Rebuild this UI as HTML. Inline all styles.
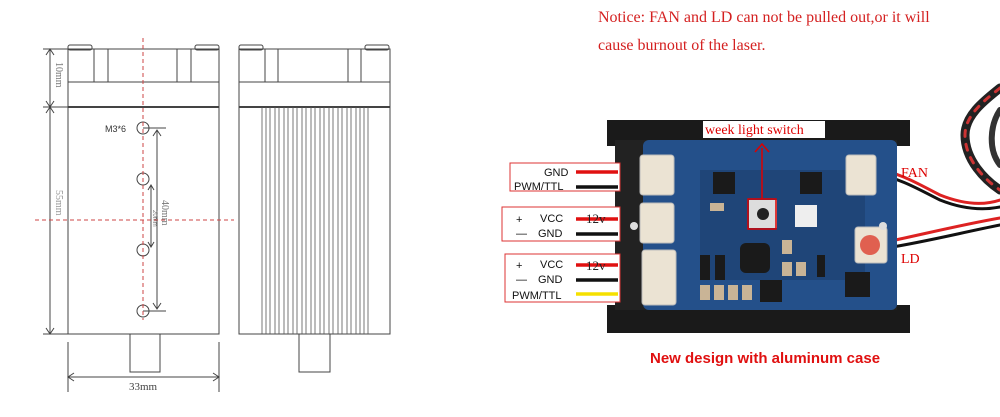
<!DOCTYPE html>
<html><head><meta charset="utf-8"><style>
html,body{margin:0;padding:0;background:#fff;width:1000px;height:417px;overflow:hidden}
</style></head><body>
<svg width="1000" height="417" viewBox="0 0 1000 417" xmlns="http://www.w3.org/2000/svg" font-family="Liberation Sans, sans-serif">
<g stroke="#444" stroke-width="1" fill="none">
  <rect x="68" y="45" width="24" height="5" rx="2"/>
  <rect x="195" y="45" width="24" height="5" rx="2"/>
  <rect x="68" y="49" width="151" height="285"/>
  <line x1="68" y1="82" x2="219" y2="82"/>
  <line x1="68" y1="107" x2="219" y2="107" stroke-width="2"/>
  <line x1="94" y1="49" x2="94" y2="82"/><line x1="108" y1="49" x2="108" y2="82"/>
  <line x1="177" y1="49" x2="177" y2="82"/><line x1="191" y1="49" x2="191" y2="82"/>
  <rect x="130" y="334" width="30" height="38"/>
  <line x1="43" y1="49" x2="68" y2="49"/><line x1="43" y1="107" x2="68" y2="107"/><line x1="43" y1="334" x2="68" y2="334"/>
  <line x1="50" y1="49" x2="50" y2="334"/>
  <path d="M46 55 L50 49 L54 55 M46 101 L50 107 L54 101 M46 113 L50 107 L54 113 M46 328 L50 334 L54 328"/>
  <line x1="68" y1="342" x2="68" y2="392"/><line x1="219" y1="342" x2="219" y2="392"/>
  <line x1="68" y1="377" x2="219" y2="377"/>
  <path d="M74 373 L68 377 L74 381 M213 373 L219 377 L213 381"/>
  <circle cx="143" cy="128" r="6"/><circle cx="143" cy="179" r="6"/><circle cx="143" cy="250" r="6"/><circle cx="143" cy="311" r="6"/>
  <line x1="143" y1="128" x2="166" y2="128"/><line x1="143" y1="311" x2="166" y2="311"/>
  <line x1="157" y1="130" x2="157" y2="309"/>
  <path d="M153 136 L157 130 L161 136 M153 303 L157 309 L161 303"/>
  <line x1="151" y1="185" x2="151" y2="247"/>
  <path d="M148 190 L151 185 L154 190 M148 242 L151 247 L154 242"/>
  <rect x="239" y="45" width="24" height="5" rx="2"/>
  <rect x="365" y="45" width="24" height="5" rx="2"/>
  <rect x="239" y="49" width="151" height="285"/>
  <line x1="239" y1="82" x2="390" y2="82"/>
  <line x1="239" y1="107" x2="390" y2="107" stroke-width="2"/>
  <line x1="265" y1="49" x2="265" y2="82"/><line x1="278" y1="49" x2="278" y2="82"/>
  <line x1="348" y1="49" x2="348" y2="82"/><line x1="361" y1="49" x2="361" y2="82"/>
  <rect x="299" y="334" width="31" height="38"/>
</g>
<g stroke="#555" stroke-width="0.8">
  <line x1="262" y1="107" x2="262" y2="334"/><line x1="266" y1="107" x2="266" y2="334"/><line x1="270" y1="107" x2="270" y2="334"/><line x1="275" y1="107" x2="275" y2="334"/><line x1="279" y1="107" x2="279" y2="334"/><line x1="284" y1="107" x2="284" y2="334"/><line x1="288" y1="107" x2="288" y2="334"/><line x1="293" y1="107" x2="293" y2="334"/><line x1="297" y1="107" x2="297" y2="334"/><line x1="302" y1="107" x2="302" y2="334"/><line x1="306" y1="107" x2="306" y2="334"/><line x1="311" y1="107" x2="311" y2="334"/><line x1="315" y1="107" x2="315" y2="334"/><line x1="320" y1="107" x2="320" y2="334"/><line x1="324" y1="107" x2="324" y2="334"/><line x1="329" y1="107" x2="329" y2="334"/><line x1="333" y1="107" x2="333" y2="334"/><line x1="338" y1="107" x2="338" y2="334"/><line x1="342" y1="107" x2="342" y2="334"/><line x1="347" y1="107" x2="347" y2="334"/><line x1="351" y1="107" x2="351" y2="334"/><line x1="356" y1="107" x2="356" y2="334"/><line x1="360" y1="107" x2="360" y2="334"/><line x1="364" y1="107" x2="364" y2="334"/><line x1="368" y1="107" x2="368" y2="334"/>
</g>
<g stroke="#c44" stroke-width="1" stroke-dasharray="4,3">
  <line x1="143" y1="38" x2="143" y2="320"/>
  <line x1="35" y1="220" x2="234" y2="220"/>
</g>
<text x="105" y="132" font-size="9" fill="#333">M3*6</text>
<text x="143" y="390" font-size="11" fill="#444" text-anchor="middle" font-family="Liberation Serif, serif">33mm</text>
<text transform="translate(56,62) rotate(90)" font-size="10" fill="#777" font-family="Liberation Serif, serif">10mm</text>
<text transform="translate(56,190) rotate(90)" font-size="10" fill="#999" font-family="Liberation Serif, serif">55mm</text>
<text transform="translate(162,200) rotate(90)" font-size="10" fill="#777" font-family="Liberation Serif, serif">40mm</text>
<text transform="translate(153,210) rotate(90)" font-size="6" fill="#777">20mm</text>

<g fill="#d42020" font-family="Liberation Serif, serif" font-size="16">
<text x="598" y="22">Notice: FAN and LD can not be pulled out,or it will</text>
<text x="598" y="50">cause burnout of the laser.</text>
</g>

<g fill="none" stroke-linecap="round">
  <path d="M876 170 C900 172 920 185 940 195 C965 205 985 205 1000 200" stroke="#d22" stroke-width="3"/>
  <path d="M876 174 C900 178 920 190 940 200 C965 210 985 210 1000 207" stroke="#111" stroke-width="3"/>
  <path d="M886 242 C920 235 960 225 1000 218" stroke="#d22" stroke-width="3"/>
  <path d="M886 248 C920 243 960 233 1000 225" stroke="#111" stroke-width="3"/>
  <path d="M1000 88 C985 100 965 115 965 135 C965 160 985 180 1000 190" stroke="#222" stroke-width="9"/>
  <path d="M1000 110 C990 125 988 150 1000 165" stroke="#333" stroke-width="6"/>
  <path d="M1000 88 C985 100 965 115 965 135 C965 160 985 180 1000 190" stroke="#c33" stroke-width="3" stroke-dasharray="6,8"/>
</g>

<rect x="607" y="120" width="303" height="26" fill="#1a1a1a"/>
<rect x="607" y="305" width="303" height="28" fill="#1a1a1a"/>
<rect x="615" y="140" width="282" height="170" fill="#222"/>
<rect x="643" y="140" width="254" height="170" rx="6" fill="#24508a"/>
<rect x="700" y="170" width="165" height="110" fill="#1f4578"/>
<g fill="#ebe3d3" stroke="#bbb">
  <rect x="640" y="155" width="34" height="40" rx="3"/>
  <rect x="640" y="203" width="34" height="40" rx="3"/>
  <rect x="642" y="250" width="34" height="55" rx="3"/>
  <rect x="846" y="155" width="30" height="40" rx="3"/>
  <rect x="855" y="227" width="32" height="36" rx="3"/>
</g>
<circle cx="870" cy="245" r="10" fill="#e06050"/>
<circle cx="634" cy="226" r="4" fill="#ddd"/>
<circle cx="883" cy="226" r="4" fill="#ddd"/>
<g fill="#1a1a1a">
  <rect x="713" y="172" width="22" height="22"/>
  <rect x="800" y="172" width="22" height="22"/>
  <rect x="740" y="243" width="30" height="30" rx="6"/>
  <rect x="760" y="280" width="22" height="22"/>
  <rect x="845" y="272" width="25" height="25"/>
  <rect x="700" y="255" width="10" height="25"/>
  <rect x="715" y="255" width="10" height="25"/>
  <rect x="817" y="255" width="8" height="22"/>
</g>
<g fill="#c9b496">
  <rect x="700" y="285" width="10" height="15"/><rect x="714" y="285" width="10" height="15"/><rect x="728" y="285" width="10" height="15"/><rect x="742" y="285" width="10" height="15"/>
  <rect x="782" y="240" width="10" height="14"/><rect x="782" y="262" width="10" height="14"/><rect x="796" y="262" width="10" height="14"/>
  <rect x="710" y="203" width="14" height="8"/>
</g>
<rect x="795" y="205" width="22" height="22" fill="#eee"/>
<rect x="749" y="200" width="28" height="28" fill="#ddd"/>
<circle cx="763" cy="214" r="6" fill="#222"/>
<rect x="748" y="199" width="28" height="30" fill="none" stroke="#d00" stroke-width="1.5"/>
<path d="M762 199 L762 148 M755 152 L762 144 L769 152" fill="none" stroke="#d00" stroke-width="1.5"/>
<rect x="703" y="121" width="122" height="17" fill="#fff"/>
<text x="705" y="134" font-size="14" fill="#d00" font-family="Liberation Serif, serif">week light switch</text>
<text x="901" y="177" font-size="14" fill="#d00" font-family="Liberation Serif, serif">FAN</text>
<text x="901" y="263" font-size="14" fill="#d00" font-family="Liberation Serif, serif">LD</text>

<g fill="#fff" stroke="#d33" stroke-width="1">
  <rect x="510" y="163" width="110" height="28"/>
  <rect x="502" y="207" width="118" height="34"/>
  <rect x="505" y="254" width="115" height="48"/>
</g>
<g font-size="11" fill="#111">
  <text x="544" y="176">GND</text>
  <text x="514" y="190">PWM/TTL</text>
  <text x="516" y="223">+</text><text x="540" y="222">VCC</text>
  <text x="516" y="237">—</text><text x="538" y="237">GND</text>
  <text x="516" y="269">+</text><text x="540" y="268">VCC</text>
  <text x="516" y="283">—</text><text x="538" y="283">GND</text>
  <text x="512" y="299">PWM/TTL</text>
</g>
<g stroke-width="3.5">
  <line x1="576" y1="172" x2="618" y2="172" stroke="#e01010"/>
  <line x1="576" y1="187" x2="618" y2="187" stroke="#111"/>
  <line x1="576" y1="219" x2="618" y2="219" stroke="#e01010"/>
  <line x1="576" y1="234" x2="618" y2="234" stroke="#111"/>
  <line x1="576" y1="265" x2="618" y2="265" stroke="#e01010"/>
  <line x1="576" y1="280" x2="618" y2="280" stroke="#111"/>
  <line x1="576" y1="294" x2="618" y2="294" stroke="#f5e000"/>
</g>
<text x="586" y="223" font-size="13" fill="#222" font-family="Liberation Serif, serif">12v</text>
<text x="586" y="270" font-size="13" fill="#222" font-family="Liberation Serif, serif">12v</text>

<text x="650" y="363" font-size="15" font-weight="bold" fill="#e01010">New design with aluminum case</text>
</svg>
</body></html>
